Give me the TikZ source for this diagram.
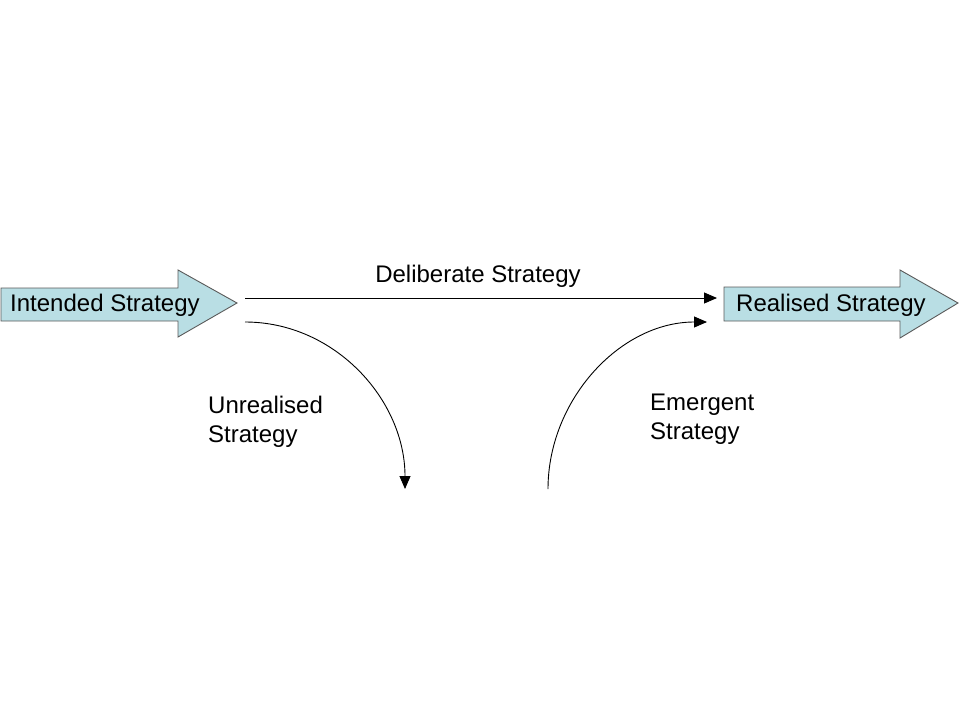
\documentclass[tikz,border=0pt]{standalone}
\usepackage{fontspec}
\setmainfont{Liberation Sans}
\usetikzlibrary{arrows.meta}
\definecolor{arrowfill}{RGB}{185,222,228}
\definecolor{arrowedge}{RGB}{90,90,90}
\begin{document}
\begin{tikzpicture}[x=1pt,y=-1pt,color = {black},
  flow/.style = {line width=0.9pt,-{Triangle[length=13pt,width=11pt]}},
  blockarrow/.style = {fill=arrowfill,draw=arrowedge,line width=0.9pt},
  label/.style = {font=\fontsize{24}{29}\selectfont,inner sep=0pt},
  twoline/.style = {label,align=left,anchor=north west}]
\useasboundingbox (0,0) rectangle (960,720);
\draw[blockarrow] (1,288) -- (178,288) -- (178,270) -- (237,303) -- (178,337) -- (178,321) -- (1,321) -- cycle;
\draw[blockarrow] (724,287) -- (900,287) -- (900,270) -- (958,303) -- (900,338) -- (900,321) -- (724,321) -- cycle;
\node[label,anchor=base west] (intended) at (10,311) {Intended Strategy};
\node[label,anchor=base west] (realised) at (736,311) {Realised Strategy};
\node[label,anchor=base] (deliberate) at (478,282) {Deliberate Strategy};
\node[twoline] (unrealised) at (208,396) {Unrealised\\Strategy};
\node[twoline] (emergent) at (650,394) {Emergent\\Strategy};
\coordinate (delStart) at (245,298);
\coordinate (delEnd) at (717,298);
\coordinate (unStart) at (245,322);
\coordinate (unEnd) at (405,489);
\coordinate (emStart) at (548,489);
\coordinate (emEnd) at (707,322);
\draw[flow] (delStart) -- (delEnd);
\draw[flow] (unStart) .. controls (335,322) and (405,400) .. (unEnd);
\draw[flow] (emStart) .. controls (548,400) and (620,322) .. (emEnd);
\end{tikzpicture}
\end{document}
